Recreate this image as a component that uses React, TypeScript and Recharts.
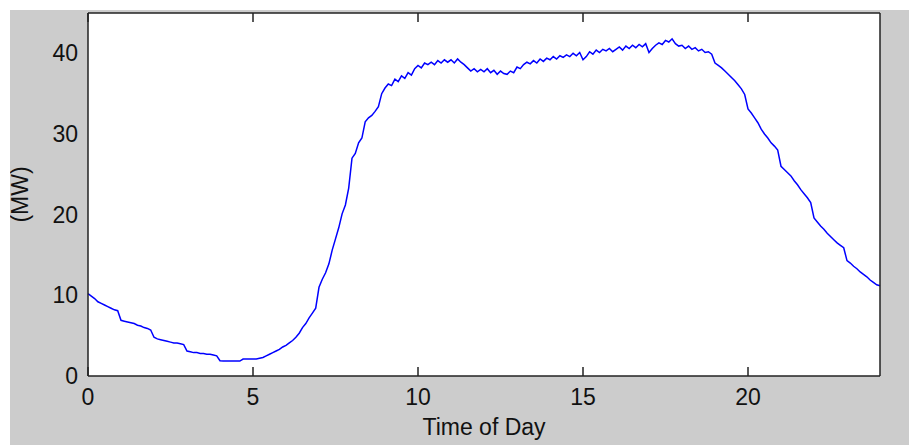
import React from "react";
import {
  LineChart,
  Line,
  XAxis,
  YAxis,
  CartesianGrid,
} from "recharts";

const load: number[] = [
  10.2, 9.9, 9.6, 9.2, 9.0, 8.8, 8.6, 8.4, 8.2, 8.1,
  6.9, 6.8, 6.7, 6.6, 6.5, 6.3, 6.2, 6.0, 5.9, 5.7,
  4.8, 4.6, 4.5, 4.4, 4.3, 4.2, 4.1, 4.1, 4.0, 3.9,
  3.1, 3.0, 2.9, 2.9, 2.8, 2.8, 2.7, 2.7, 2.6, 2.5,
  1.9, 1.85, 1.85, 1.85, 1.85, 1.85, 1.85, 2.1, 2.1, 2.1,
  2.1, 2.1, 2.2, 2.3, 2.5, 2.7, 2.9, 3.1, 3.3, 3.6,
  3.8, 4.1, 4.4, 4.8, 5.3, 6.0, 6.5, 7.2, 7.8, 8.4,
  11.0, 12.0, 12.8, 13.9, 15.6, 17.0, 18.4, 20.1, 21.2, 23.3,
  27.0, 27.6, 28.9, 29.5, 31.5, 32.0, 32.3, 32.8, 33.4, 35.0,
  35.7, 36.2, 36.0, 36.8, 36.5, 37.2, 36.9, 37.6, 37.3, 38.1,
  38.5, 38.2, 38.8, 38.6, 38.9, 38.6, 39.1, 38.8, 39.2, 38.9,
  39.2, 38.8, 39.3, 38.9, 38.6, 38.2, 37.8, 38.1, 37.7, 38.0,
  37.7, 38.1, 37.6, 37.9, 37.4, 37.8, 37.5, 37.4, 37.8, 37.6,
  38.3, 38.1, 38.6, 38.9, 38.7, 39.1, 38.8, 39.3, 39.0, 39.4,
  39.2, 39.6, 39.3, 39.7, 39.5, 39.8, 39.6, 40.0, 39.7, 40.1,
  39.2, 39.6, 40.2, 39.9, 40.4, 40.1, 40.5, 40.3, 40.6, 40.2,
  40.5, 40.8, 40.4, 40.9, 40.6, 41.0, 40.7, 41.1, 40.8, 41.2,
  40.1, 40.6, 41.0, 41.3, 41.1, 41.6, 41.4, 41.8, 41.2, 40.9,
  41.0, 40.6, 40.9, 40.5, 40.7, 40.3, 40.5, 40.1, 40.2, 39.9,
  38.8, 38.5, 38.2, 37.8, 37.4, 37.0, 36.6, 36.1, 35.6, 34.9,
  33.1, 32.6, 32.0, 31.4, 30.6, 30.0, 29.5, 28.9, 28.5, 28.0,
  26.0, 25.6, 25.2, 24.8, 24.2, 23.7, 23.1, 22.6, 22.1, 21.5,
  19.6, 19.1, 18.6, 18.2, 17.7, 17.3, 16.9, 16.5, 16.2, 15.9,
  14.3, 14.0, 13.6, 13.3, 12.9, 12.6, 12.3, 11.9, 11.6, 11.3,
  11.2,
];

const xTicks = [0, 5, 10, 15, 20];
const yTicks = [0, 10, 20, 30, 40];

const data = load.map((v, i) => ({ t: i / 10, mw: v }));

const font = "'Liberation Sans', Arial, sans-serif";
const ink = "#222";
const tickText = { fontSize: 23, fill: "#111", fontFamily: font };
const edge = { stroke: ink, strokeWidth: 1.5 };

// helper axes only draw the inward tick marks, no labels
const noLabel = () => <g />;

export default function App() {
  return (
    <div
      style={{
        position: "absolute",
        left: 10,
        top: 10,
        width: 899,
        height: 435,
        background: "#cccccc",
      }}
    >
      <LineChart
        width={899}
        height={435}
        data={data}
        margin={{ top: 3, right: 29, bottom: 0, left: 0 }}
      >
        <CartesianGrid
          xAxisId="b"
          yAxisId="l"
          horizontal={false}
          vertical={false}
          fill="#ffffff"
        />
        <XAxis
          xAxisId="b"
          dataKey="t"
          type="number"
          domain={[0, 24]}
          ticks={xTicks}
          height={69}
          tickLine={false}
          tickSize={8}
          tickMargin={5}
          axisLine={edge}
          tick={tickText}
          label={{
            value: "Time of Day",
            position: "insideBottom",
            offset: 10,
            style: { fontSize: 23, fill: "#111", fontFamily: font },
          }}
        />
        <XAxis
          xAxisId="bm"
          dataKey="t"
          type="number"
          domain={[0, 24]}
          ticks={xTicks}
          height={30}
          mirror
          tick={noLabel}
          tickSize={9}
          tickLine={edge}
          axisLine={false}
        />
        <XAxis
          xAxisId="tm"
          orientation="top"
          dataKey="t"
          type="number"
          domain={[0, 24]}
          ticks={xTicks}
          height={30}
          mirror
          tick={noLabel}
          tickSize={9}
          tickLine={edge}
          axisLine={edge}
        />
        <YAxis
          yAxisId="l"
          type="number"
          domain={[0, 45]}
          ticks={yTicks}
          width={78}
          tickLine={false}
          tickSize={8}
          tickMargin={2}
          axisLine={edge}
          tick={tickText}
          label={{
            value: "(MW)",
            angle: -90,
            position: "insideLeft",
            offset: 10,
            style: { fontSize: 23, fill: "#111", fontFamily: font, textAnchor: "middle" },
          }}
        />
        <YAxis
          yAxisId="lm"
          type="number"
          domain={[0, 45]}
          ticks={yTicks}
          width={30}
          mirror
          tick={noLabel}
          tickSize={8}
          tickLine={edge}
          axisLine={false}
        />
        <YAxis
          yAxisId="rm"
          orientation="right"
          type="number"
          domain={[0, 45]}
          ticks={yTicks}
          width={30}
          mirror
          tick={noLabel}
          tickSize={8}
          tickLine={edge}
          axisLine={edge}
        />
        <Line
          xAxisId="b"
          yAxisId="l"
          dataKey="mw"
          type="linear"
          stroke="#0000ff"
          strokeWidth={1.5}
          dot={false}
          isAnimationActive={false}
        />
      </LineChart>
    </div>
  );
}
